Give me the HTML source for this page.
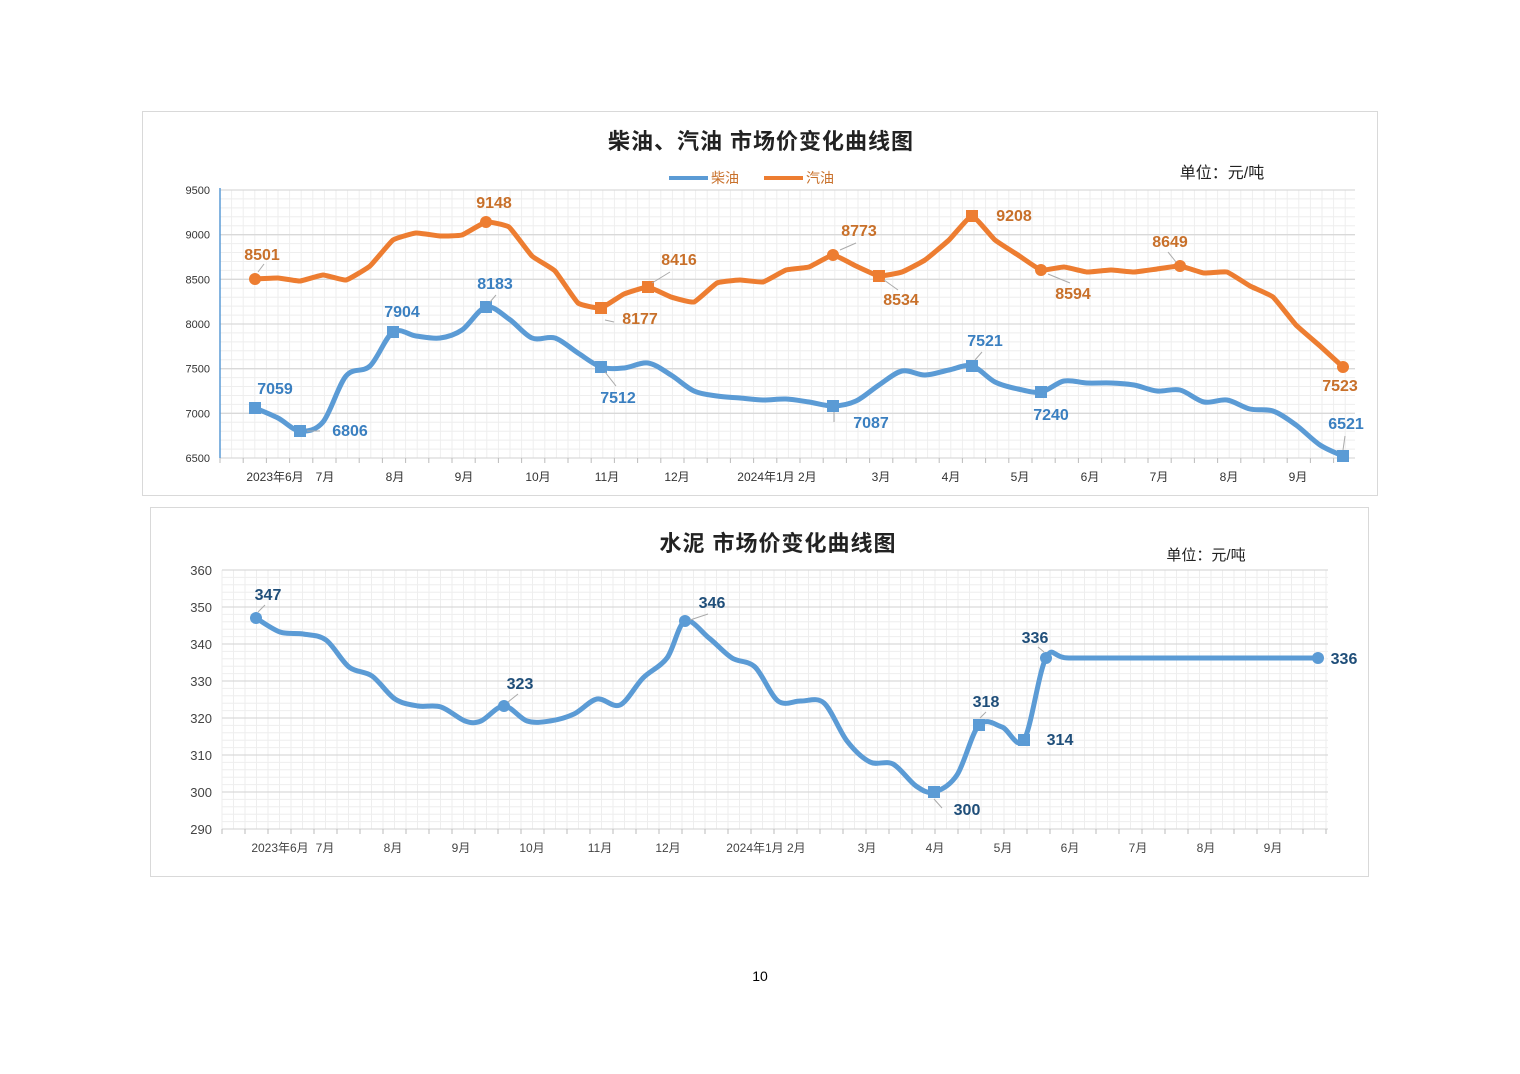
<!DOCTYPE html>
<html><head><meta charset="utf-8"><style>
html,body{margin:0;padding:0;background:#fff;}
svg{display:block;}
text{font-family:"Liberation Sans","Noto Sans CJK SC",sans-serif;}
</style></head><body>
<svg id="s" width="1520" height="1074" xmlns="http://www.w3.org/2000/svg">
<rect x="142.5" y="111.5" width="1235" height="384" fill="#fff" stroke="#d9d9d9"/>
<rect x="150.5" y="507.5" width="1218" height="369" fill="#fff" stroke="#d9d9d9"/>
<g id="g1"></g><g id="g2"></g>
<text x="761" y="149" font-size="22" font-weight="bold" letter-spacing="1" text-anchor="middle" fill="#222">柴油、汽油  市场价变化曲线图</text>
<text x="1222" y="178" font-size="16" text-anchor="middle" fill="#222">单位：元/吨</text>
<line x1="669" y1="178" x2="708" y2="178" stroke="#5b9bd5" stroke-width="4"/>
<text x="711" y="183" font-size="14" fill="#c8702a">柴油</text>
<line x1="764" y1="178" x2="803" y2="178" stroke="#ed7d31" stroke-width="4"/>
<text x="806" y="183" font-size="14" fill="#c8702a">汽油</text>
<text x="778" y="551" font-size="22" font-weight="bold" letter-spacing="1" text-anchor="middle" fill="#222">水泥  市场价变化曲线图</text>
<text x="1206" y="560" font-size="15" text-anchor="middle" fill="#222">单位：元/吨</text>
<text x="760" y="981" font-size="14" text-anchor="middle" fill="#000">10</text>
</svg>
<script>
var NS="http://www.w3.org/2000/svg";
function el(p,t,a,txt){var e=document.createElementNS(NS,t);for(var k in a)e.setAttribute(k,a[k]);if(txt!=null)e.textContent=txt;p.appendChild(e);return e;}
function smooth(pts,t){t=t||0.16;var d="M"+pts[0][0]+","+pts[0][1];for(var i=0;i<pts.length-1;i++){var p0=pts[i-1]||pts[i],p1=pts[i],p2=pts[i+1],p3=pts[i+2]||p2;
d+=" C"+(p1[0]+(p2[0]-p0[0])*t)+","+(p1[1]+(p2[1]-p0[1])*t)+" "+(p2[0]-(p3[0]-p1[0])*t)+","+(p2[1]-(p3[1]-p1[1])*t)+" "+p2[0]+","+p2[1];}return d;}
function grid(g,x0,x1,y0,y1,nMaj,nMin,vstep){
 for(var x=x0;x<=x1;x+=vstep)el(g,"line",{x1:x,y1:y0,x2:x,y2:y1,stroke:"#eeeeee","stroke-width":1});
 var h=(y1-y0)/(nMaj*nMin);
 for(var i=0;i<=nMaj*nMin;i++){var y=y0+i*h;el(g,"line",{x1:x0,y1:y,x2:x1,y2:y,stroke:i%nMin==0?"#d9d9d9":"#eeeeee","stroke-width":i%nMin==0?1.3:1});}
 for(var x=x0;x<=x1;x+=vstep*2)el(g,"line",{x1:x,y1:y1,x2:x,y2:y1+5,stroke:"#bbb"});
}
var g1=document.getElementById("g1");
grid(g1,220,1355,190,458,6,5,11.6);
el(g1,"line",{x1:220,y1:188,x2:220,y2:458,stroke:"#5b9bd5","stroke-width":1.5});
var yl=[9500,9000,8500,8000,7500,7000,6500];
yl.forEach(function(v,i){el(g1,"text",{x:210,y:194+i*44.67,"font-size":11,"text-anchor":"end",fill:"#333"},v);});
[["2023年6月",275],["7月",325],["8月",395],["9月",464],["10月",538],["11月",607],["12月",677],["2024年1月 2月",777],["3月",881],["4月",951],["5月",1020],["6月",1090],["7月",1159],["8月",1229],["9月",1298]].forEach(function(a){el(g1,"text",{x:a[1],y:481,"font-size":12,"text-anchor":"middle",fill:"#333"},a[0]);});
var gas=[[255,279],[278,278],[300,281],[323,275],[346,280],[370,266],[393,240],[416,233],[440,236],[462,235],[486,222],[509,227],[532,256],[555,271],[578,303],[601,308],[624,294],[648,287],[671,297],[694,302],[717,283],[740,280],[763,282],[786,270],[809,267],[833,255],[856,266],[879,276],[902,272],[925,260],[949,240],[972,216],[995,240],[1018,255],[1041,270],[1064,267],[1087,272],[1111,270],[1134,272],[1157,269],[1180,266],[1204,273],[1227,272],[1250,286],[1273,297],[1296,325],[1320,346],[1343,367]];
var die=[[255,408],[278,418],[300,431],[323,422],[346,376],[370,366],[393,332],[416,336],[440,338],[462,330],[486,307],[509,319],[532,338],[555,338],[578,353],[601,367],[624,368],[648,363],[671,375],[694,391],[717,396],[740,398],[763,400],[786,399],[809,402],[833,406],[856,401],[879,385],[902,371],[925,375],[949,370],[972,366],[995,382],[1018,389],[1041,392],[1064,381],[1087,383],[1111,383],[1134,385],[1157,391],[1180,390],[1204,402],[1227,400],[1250,409],[1273,411],[1296,425],[1320,445],[1343,456]];
el(g1,"path",{d:smooth(gas,0.06),fill:"none",stroke:"#ed7d31","stroke-width":5,"stroke-linejoin":"round"});
el(g1,"path",{d:smooth(die),fill:"none",stroke:"#5b9bd5","stroke-width":5,"stroke-linejoin":"round"});
function mk(g,x,y,c,sq){if(sq)el(g,"rect",{x:x-6,y:y-6,width:12,height:12,fill:c});else el(g,"circle",{cx:x,cy:y,r:6,fill:c});}
function lab(g,x,y,t,c,lx,ly,px,py){if(px!=null)el(g,"line",{x1:px,y1:py,x2:lx,y2:ly,stroke:"#aaa"});el(g,"text",{x:x,y:y,"font-size":16,"font-weight":"bold",fill:c,"text-anchor":"middle"},t);}
var O="#c8702a",B="#3a7fc0";
[[255,279,0],[486,222,0],[601,308,1],[648,287,1],[833,255,0],[879,276,1],[972,216,1],[1041,270,0],[1180,266,0],[1343,367,0]].forEach(function(p){mk(g1,p[0],p[1],"#ed7d31",p[2]);});
[[255,408],[300,431],[393,332],[486,307],[601,367],[833,406],[972,366],[1041,392],[1343,456]].forEach(function(p){mk(g1,p[0],p[1],"#5b9bd5",1);});
lab(g1,262,260,"8501",O,258,272,264,264);
lab(g1,494,208,"9148",O);
lab(g1,640,324,"8177",O,605,320,614,322);
lab(g1,679,265,"8416",O,652,283,670,272);
lab(g1,859,236,"8773",O,840,250,856,243);
lab(g1,901,305,"8534",O,884,280,898,290);
lab(g1,1014,221,"9208",O);
lab(g1,1073,299,"8594",O,1048,274,1070,283);
lab(g1,1170,247,"8649",O,1176,262,1168,252);
lab(g1,1340,391,"7523",O);
lab(g1,275,394,"7059",B);
lab(g1,350,436,"6806",B,307,431,320,431);
lab(g1,402,317,"7904",B);
lab(g1,495,289,"8183",B,490,302,496,295);
lab(g1,618,403,"7512",B,605,372,616,386);
lab(g1,871,428,"7087",B,834,412,834,422);
lab(g1,985,346,"7521",B,975,360,982,352);
lab(g1,1051,420,"7240",B);
lab(g1,1346,429,"6521",B,1343,450,1345,436);
var g2=document.getElementById("g2");
grid(g2,222,1328,570,829,7,5,11.5);
[360,350,340,330,320,310,300,290].forEach(function(v,i){el(g2,"text",{x:212,y:575+i*37,"font-size":13,"text-anchor":"end",fill:"#444"},v);});
[["2023年6月",280],["7月",325],["8月",393],["9月",461],["10月",532],["11月",600],["12月",668],["2024年1月 2月",766],["3月",867],["4月",935],["5月",1003],["6月",1070],["7月",1138],["8月",1206],["9月",1273]].forEach(function(a){el(g2,"text",{x:a[1],y:852,"font-size":12,"text-anchor":"middle",fill:"#444"},a[0]);});
var cem=[[256,618],[280,632],[303,634],[326,640],[349,667],[372,676],[395,699],[418,706],[441,707],[465,721],[481,721],[504,706],[527,721],[550,721],[574,714],[597,699],[620,705],[643,678],[667,658],[685,621],[709,638],[732,658],[755,667],[778,701],[801,701],[824,703],[847,741],[870,762],[893,764],[916,786],[934,792],[957,775],[979,725],[1002,727],[1024,740],[1046,658],[1069,658],[1150,658],[1250,658],[1318,658]];
el(g2,"path",{d:smooth(cem),fill:"none",stroke:"#5b9bd5","stroke-width":5,"stroke-linejoin":"round"});
var D="#1f4e79";
[[256,618],[504,706],[685,621],[1046,658],[1318,658]].forEach(function(p){mk(g2,p[0],p[1],"#5b9bd5",0);});
[[934,792],[979,725],[1024,740]].forEach(function(p){mk(g2,p[0],p[1],"#5b9bd5",1);});
lab(g2,268,600,"347",D,258,612,265,605);
lab(g2,520,689,"323",D,508,702,518,694);
lab(g2,712,608,"346",D,690,620,708,614);
lab(g2,967,815,"300",D,934,799,942,808);
lab(g2,986,707,"318",D,980,718,986,712);
lab(g2,1060,745,"314",D);
lab(g2,1035,643,"336",D,1044,652,1038,647);
lab(g2,1344,664,"336",D);
</script>
</body></html>
